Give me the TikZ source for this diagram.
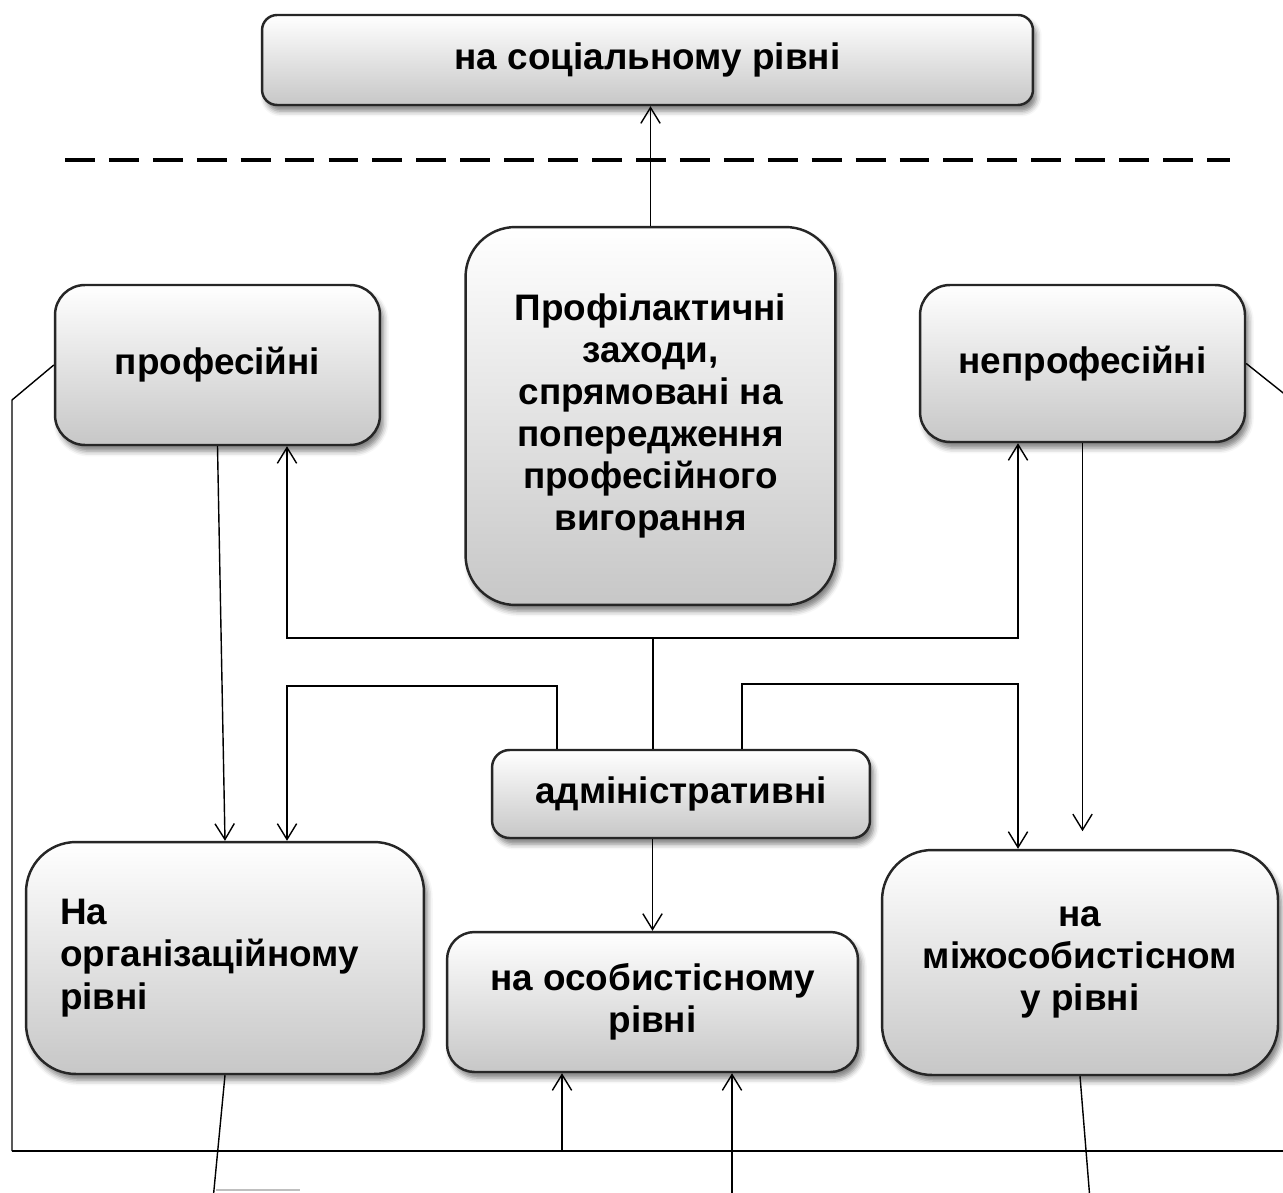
\documentclass[tikz,border=0pt]{standalone}
\usepackage{fontspec}
\setmainfont{Liberation Sans}
\usetikzlibrary{arrows.meta,shadows.blur}

\begin{document}
\begin{tikzpicture}[x=0.02cm, y=-0.02cm,
    box/.style={draw=black!85, line width=1.4pt, top color=white, bottom color=black!22,
      rounded corners=#1, align=center, inner sep=0pt,
      font=\fontsize{21}{24}\selectfont\bfseries,
      blur shadow={shadow xshift=2pt, shadow yshift=-3.5pt, shadow blur radius=3pt, shadow opacity=50}},
    box/.default=0.45cm,
    conn/.style={line width=0.8pt},
    arr/.style={conn, -{Straight Barb[length=9pt, width=11pt]}}]
  \useasboundingbox (0,0) rectangle (1283,1192);
  \clip (0,0) rectangle (1283,1192);
  \node (social) [box=0.3cm, minimum width=15.42cm, minimum height=1.8cm] at (647.5,60) {на соціальному рівні};
  \node (main) [box=1cm, minimum width=7.4cm, minimum height=7.56cm] at (650.5,416) {Профілактичні\\заходи,\\спрямовані на\\попередження\\професійного\\вигорання};
  \node (prof) [box=0.6cm, minimum width=6.5cm, minimum height=3.2cm] at (217.5,365) {професійні};
  \node (neprof) [box=0.6cm, minimum width=6.5cm, minimum height=3.14cm] at (1082.5,363.5) {непрофесійні};
  \node (admin) [box=0.35cm, minimum width=7.56cm, minimum height=1.76cm] at (681,794) {адміністративні};
  \node (org) [box=1cm, minimum width=7.96cm, minimum height=4.64cm, text width=6.6cm, align=left] at (225,958) {На\\організаційному\\рівні};
  \node (pers) [box=0.55cm, minimum width=8.22cm, minimum height=2.8cm] at (652.5,1002) {на особистісному\\рівні};
  \node (inter) [box=1cm, minimum width=7.92cm, minimum height=4.5cm] at (1080,962.5) {на\\міжособистісном\\у рівні};
  \draw [line width=1.8pt, dash pattern=on 17pt off 8pt] (65,160) -- (1230,160);
  \coordinate (split) at (653,638);
  \coordinate (upL) at (287,638);
  \coordinate (upR) at (1018,638);
  \coordinate (leftbr) at (557,686);
  \coordinate (rightbr) at (742,684);
  \coordinate (kneeL) at (12,400);
  \coordinate (busL) at (12,1151);
  \coordinate (kneeR) at (1292,400);
  \coordinate (busR) at (1292,1151);
  \coordinate (busA) at (562,1151);
  \coordinate (belowB) at (732,1200);
  \coordinate (orgOut) at (213,1200);
  \coordinate (interOut) at (1090,1200);
  \draw [arr] (main.north) -- (main.north |- social.south);
  \draw [arr] (prof.south) -- (org.north);
  \draw [conn] (admin.north -| split) -- (split);
  \draw [arr] (split) -- (upL) -- (upL |- prof.south);
  \draw [arr] (split) -- (upR) -- (upR |- neprof.south);
  \draw [arr] (admin.north -| leftbr) -- (leftbr) -| (org.north -| upL);
  \draw [arr] (admin.north -| rightbr) -- (rightbr) -| (inter.north -| upR);
  \draw [arr, shorten >=10pt] (neprof.south) -- (neprof.south |- inter.north);
  \draw [arr] (admin.south -| pers.north) -- (pers.north);
  \draw [conn] (prof.west) -- (kneeL) -- (busL);
  \draw [conn] (neprof.east) -- (kneeR) -- (busR);
  \draw [line width=1.1pt] (busL) -- (busR);
  \draw [arr] (busA) -- (busA |- pers.south);
  \draw [arr] (belowB) -- (belowB |- pers.south);
  \draw [conn] (org.south) -- (orgOut);
  \draw [conn] (inter.south) -- (interOut);
  \draw [black!25, line width=1.2pt] (216,1190) -- (300,1190);
\end{tikzpicture}
\end{document}
